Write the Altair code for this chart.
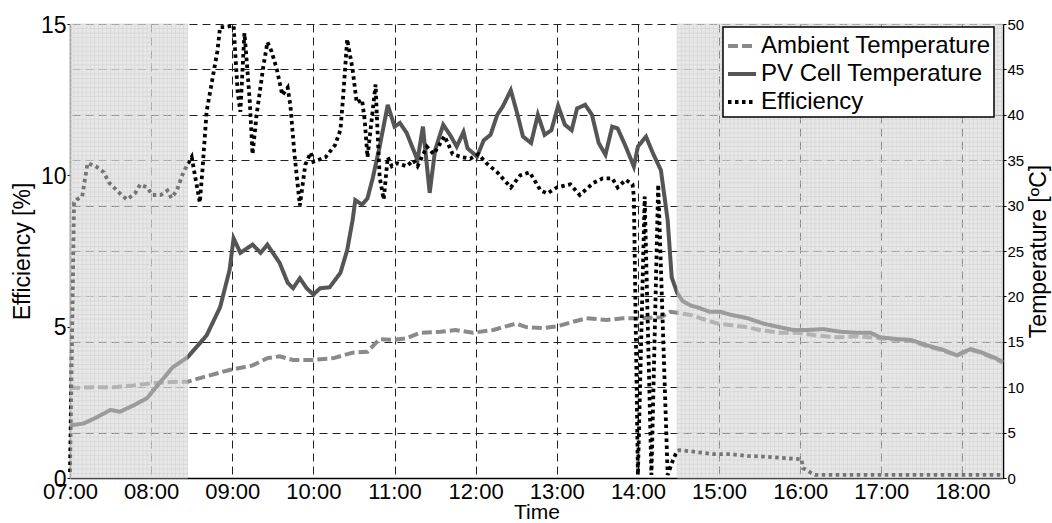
import altair as alt
import pandas as pd

# ---------------- data ----------------
eff_times = ["07:00", "07:03", "07:05", "07:09", "07:13", "07:19", "07:25", "07:29", "07:37", "07:42",
             "07:48", "07:52", "07:57", "08:01", "08:07", "08:12", "08:15", "08:19", "08:23", "08:25",
             "08:30", "08:32", "08:36", "08:38", "08:41", "08:45", "08:49", "08:51", "08:55", "09:01",
             "09:02", "09:04", "09:06", "09:09", "09:11", "09:13", "09:15", "09:18", "09:23", "09:26",
             "09:29", "09:33", "09:37", "09:41", "09:43", "09:46", "09:50", "09:54", "09:58", "10:00",
             "10:09", "10:16", "10:20", "10:22", "10:25", "10:29", "10:32", "10:36", "10:38", "10:40",
             "10:43", "10:46", "10:47", "10:49", "10:52", "10:55", "10:58", "11:02", "11:09", "11:14",
             "11:17", "11:24", "11:29", "11:37", "11:43", "11:50", "11:56", "12:02", "12:08", "12:16",
             "12:26", "12:33", "12:40", "12:48", "12:53", "13:00", "13:10", "13:17", "13:27", "13:34",
             "13:41", "13:45", "13:51", "13:56", "13:57", "14:00", "14:05", "14:10", "14:15", "14:22",
             "14:26", "14:29", "14:31", "14:41", "14:56", "15:08", "15:21", "15:36", "15:50", "16:01",
             "16:02", "16:08", "16:11", "18:30"]
eff_vals = [0.2, 9.1, 9.2, 9.3, 10.4, 10.3, 10.1, 9.75, 9.4, 9.2,
            9.4, 9.7, 9.6, 9.35, 9.35, 9.5, 9.25, 9.5, 10.0, 10.2,
            10.6, 10.1, 9.1, 10.2, 12.1, 13.1, 14.1, 14.9, 14.9, 14.95,
            14.2, 12.75, 12.1, 14.7, 13.6, 12.4, 10.7, 12.0, 13.6, 14.4,
            14.1, 13.5, 12.65, 12.9, 12.3, 10.7, 9.0, 10.35, 10.75, 10.45,
            10.6, 11.0, 11.5, 12.6, 14.5, 13.5, 12.4, 12.5, 11.8, 10.6,
            11.8, 13.0, 11.9, 9.95, 9.2, 10.6, 10.3, 10.4, 10.3, 10.5,
            10.3, 10.95, 10.7, 11.3, 10.7, 10.6, 10.55, 10.7, 10.4, 10.1,
            9.6, 10.0, 10.1, 9.5, 9.4, 9.6, 9.7, 9.35, 9.75, 9.9,
            9.9, 9.6, 9.85, 9.7, 9.3, 0.1, 9.3, 0.1, 9.7, 0.1,
            0.6, 0.9, 0.92, 0.87, 0.79, 0.79, 0.73, 0.7, 0.65, 0.62,
            0.33, 0.17, 0.1, 0.1]

pv_times = ["07:00", "07:10", "07:20", "07:30", "07:37", "07:47", "07:57", "08:07", "08:16", "08:27",
            "08:41", "08:51", "08:58", "09:01", "09:06", "09:15", "09:21", "09:26", "09:30", "09:35",
            "09:41", "09:45", "09:50", "09:55", "10:00", "10:05", "10:12", "10:20", "10:25", "10:29",
            "10:31", "10:36", "10:40", "10:44", "10:49", "10:55", "11:00", "11:04", "11:09", "11:17",
            "11:21", "11:26", "11:30", "11:36", "11:41", "11:46", "11:51", "11:54", "12:01", "12:06",
            "12:11", "12:16", "12:20", "12:26", "12:31", "12:35", "12:41", "12:46", "12:51", "12:56",
            "13:01", "13:06", "13:11", "13:15", "13:21", "13:26", "13:31", "13:36", "13:41", "13:45",
            "13:51", "13:57", "14:00", "14:06", "14:11", "14:17", "14:22", "14:25", "14:29", "14:33",
            "14:39", "14:46", "14:53", "15:01", "15:08", "15:21", "15:33", "15:45", "15:55", "16:05",
            "16:17", "16:30", "16:42", "16:52", "16:59", "17:12", "17:22", "17:34", "17:46", "17:56",
            "18:01", "18:06", "18:13", "18:23", "18:30"]
pv_vals = [5.8, 6.0, 6.7, 7.5, 7.3, 8.0, 8.8, 10.6, 12.2, 13.3,
           15.7, 18.8, 22.9, 26.4, 24.8, 25.7, 24.8, 25.7, 24.8, 23.7,
           21.5, 20.9, 22.0, 20.9, 20.2, 20.9, 21.0, 22.6, 25.1, 28.4,
           30.6, 30.1, 30.8, 33.1, 36.5, 41.1, 38.7, 39.1, 38.0, 35.0,
           38.7, 31.4, 36.1, 38.9, 37.8, 36.5, 38.1, 36.3, 35.4, 37.2,
           37.8, 40.0, 40.9, 42.7, 40.0, 37.6, 36.9, 40.0, 37.8, 38.3,
           41.0, 38.9, 38.3, 40.7, 41.1, 40.0, 36.9, 35.6, 38.7, 38.5,
           36.5, 34.3, 36.5, 37.6, 35.8, 33.9, 28.4, 22.1, 20.4, 19.5,
           19.0, 18.7, 18.3, 18.3, 18.0, 17.6, 17.0, 16.6, 16.3, 16.3,
           16.4, 16.1, 16.0, 16.0, 15.5, 15.3, 15.2, 14.6, 14.1, 13.5,
           13.9, 14.2, 13.9, 13.3, 12.8]

amb_times = ["07:00", "07:17", "07:32", "07:47", "08:01", "08:19", "08:27", "08:36", "08:58", "09:15",
             "09:26", "09:35", "09:45", "10:00", "10:15", "10:29", "10:40", "10:49", "10:59", "11:09",
             "11:19", "11:34", "11:45", "11:58", "12:13", "12:26", "12:30", "12:38", "12:50", "13:00",
             "13:12", "13:22", "13:37", "13:49", "14:02", "14:17", "14:24", "14:29", "14:39", "14:46",
             "14:59", "15:08", "15:21", "15:30", "15:45", "15:58", "16:10", "16:27", "16:42", "16:59",
             "17:12", "17:22", "17:34", "17:46", "17:56", "18:01", "18:06", "18:13", "18:23", "18:30"]
amb_vals = [9.9, 10.0, 10.0, 10.2, 10.45, 10.6, 10.6, 11.0, 11.9, 12.4,
            13.2, 13.4, 13.0, 13.0, 13.2, 13.8, 13.9, 15.3, 15.2, 15.4,
            16.0, 16.1, 16.3, 16.0, 16.3, 16.85, 17.0, 16.6, 16.5, 16.7,
            17.2, 17.6, 17.4, 17.6, 17.6, 17.7, 18.3, 18.2, 17.95, 17.6,
            17.0, 16.85, 16.6, 16.3, 16.0, 16.0, 15.75, 15.5, 15.6, 15.4,
            15.2, 15.1, 14.5, 14.0, 13.5, 13.8, 14.1, 13.8, 13.2, 12.7]

series_names = ["Ambient Temperature", "PV Cell Temperature", "Efficiency"]
series_colors = ["#8a8a8a", "#555555", "#000000"]
series_dashes = [[10, 4], [1, 0], [3.5, 3.5]]

shade_start = ["07:00", "14:29"]
shade_end = ["08:27", "18:30"]


def hrs(s):
    h, m = s.split(":")
    return int(h) + int(m) / 60.0


eff_df = pd.DataFrame({"t": [hrs(s) for s in eff_times], "v": eff_vals, "series": "Efficiency"})
temp_df = pd.concat([
    pd.DataFrame({"t": [hrs(s) for s in amb_times], "v": amb_vals, "series": "Ambient Temperature"}),
    pd.DataFrame({"t": [hrs(s) for s in pv_times], "v": pv_vals, "series": "PV Cell Temperature"}),
], ignore_index=True)
shade_df = pd.DataFrame({"t0": [hrs(s) for s in shade_start], "t1": [hrs(s) for s in shade_end]})

# fine texture grid inside the shaded (idle) periods
fine_v = []
for a, b in zip(shade_df.t0, shade_df.t1):
    k = 0
    while a + k * 0.05 <= b + 1e-9:
        fine_v.append(a + k * 0.05)
        k += 1
fine_v_df = pd.DataFrame({"t": fine_v})
fine_h_rows = []
for a, b in zip(shade_df.t0, shade_df.t1):
    for j in range(101):
        fine_h_rows.append({"t0": a, "t1": b, "y": j * 0.5})
fine_h_df = pd.DataFrame(fine_h_rows)

W, H = 933, 454
FONT = "Liberation Sans"

x_axis = alt.Axis(
    values=list(range(7, 19)),
    labelExpr="(datum.value < 10 ? '0' : '') + datum.value + ':00'",
    title="Time", grid=True, gridDash=[8, 5], gridColor="#222222", gridWidth=1,
    labelFontSize=22, titleFontSize=21, labelFont=FONT, titleFont=FONT,
    labelColor="black", titleColor="black", titleFontWeight="normal",
    domainColor="black", domainWidth=1.5, tickSize=0, labelPadding=3, titlePadding=-1,
    labelFlush=False,
)
x_scale = alt.Scale(domain=[7, 18.5], nice=False, zero=False)
temp_scale = alt.Scale(domain=[0, 50], nice=False)
eff_scale = alt.Scale(domain=[0, 15], nice=False)

temp_axis = alt.Axis(
    orient="right", values=list(range(0, 55, 5)), title="Temperature [ºC]",
    grid=True, gridDash=[8, 5], gridColor="#222222", gridWidth=1,
    labelFontSize=15, titleFontSize=23, labelFont=FONT, titleFont=FONT,
    labelColor="black", titleColor="black", titleFontWeight="normal",
    domainColor="black", domainWidth=1.5, tickSize=3, tickColor="black",
    labelPadding=1, titlePadding=4, titleAngle=270, titleBaseline="top",
)
eff_axis = alt.Axis(
    orient="left", values=[0, 5, 10, 15], title="Efficiency [%]", grid=False,
    labelFontSize=23, titleFontSize=23, labelFont=FONT, titleFont=FONT,
    labelColor="black", titleColor="black", titleFontWeight="normal",
    domainColor="#444444", domainWidth=1.5, tickSize=3, tickColor="black",
    labelPadding=1, titlePadding=6,
    labelExpr="datum.value == 0 ? '0' : datum.label",
    labelBaseline="alphabetic", labelOffset=8,
)

color_enc = alt.Color("series:N", scale=alt.Scale(domain=series_names, range=series_colors),
                      legend=alt.Legend(title=None))
dash_enc = alt.StrokeDash("series:N", scale=alt.Scale(domain=series_names, range=series_dashes),
                          legend=alt.Legend(title=None))

fine_v_layer = alt.Chart(fine_v_df).mark_rule(color="#d2d2d2", strokeWidth=0.7).encode(
    x=alt.X("t:Q", scale=x_scale, axis=x_axis),
    y=alt.value(0), y2=alt.value(H),
)
fine_h_layer = alt.Chart(fine_h_df).mark_rule(color="#d2d2d2", strokeWidth=0.7).encode(
    x=alt.X("t0:Q", scale=x_scale, axis=x_axis), x2="t1:Q",
    y=alt.Y("y:Q", scale=temp_scale, axis=temp_axis),
)
temp_lines = alt.Chart(temp_df).mark_line(strokeWidth=4, strokeCap="butt").encode(
    x=alt.X("t:Q", scale=x_scale, axis=x_axis),
    y=alt.Y("v:Q", scale=temp_scale, axis=temp_axis),
    color=color_enc, strokeDash=dash_enc,
    order="t:Q",
)
temp_group = alt.layer(fine_v_layer, fine_h_layer, temp_lines)

eff_line = alt.Chart(eff_df).mark_line(strokeWidth=3.8, strokeCap="butt").encode(
    x=alt.X("t:Q", scale=x_scale, axis=x_axis),
    y=alt.Y("v:Q", scale=eff_scale, axis=eff_axis),
    color=color_enc, strokeDash=dash_enc,
    order="t:Q",
)

shade = alt.Chart(shade_df).mark_rect(color="#d6d6d6", opacity=0.55).encode(
    x=alt.X("t0:Q", scale=x_scale, axis=x_axis), x2="t1:Q",
    y=alt.value(0), y2=alt.value(H),
)

chart = alt.layer(temp_group, eff_line, shade).resolve_scale(
    y="independent"
).properties(
    width=W, height=H,
    autosize=alt.AutoSizeParams(type="none"),
    padding={"left": 70, "top": 24, "right": 49, "bottom": 45},
).configure_view(stroke=None).configure_legend(
    orient="none", legendX=653, legendY=3,
    fillColor="white", strokeColor="black", strokeWidth=1.5, cornerRadius=0,
    padding=3, symbolType="stroke", symbolSize=784, symbolStrokeWidth=4,
    labelFontSize=24, labelFont=FONT, labelColor="black", labelOffset=3,
    rowPadding=0, labelLimit=400,
)

chart.save("out.html", embed_options={"renderer": "svg", "actions": False})
